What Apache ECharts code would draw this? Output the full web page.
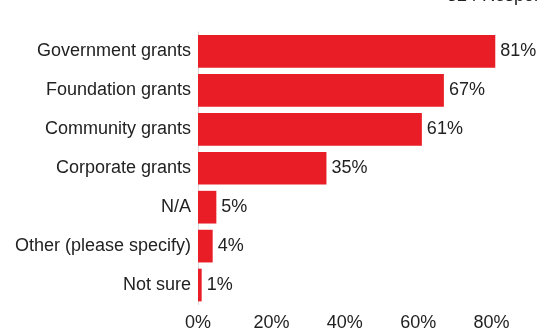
<!DOCTYPE html>
<html>
<head>
<meta charset="utf-8">
<script src="https://cdn.jsdelivr.net/npm/echarts@6/dist/echarts.min.js"></script>
<style>html,body{margin:0;padding:0;background:#fff}#c{width:541px;height:333px}</style>
</head>
<body>
<div id="c"></div>
<script>
const categories = ["Government grants","Foundation grants","Community grants","Corporate grants","N/A","Other (please specify)","Not sure"];
const values = [81, 67, 61, 35, 5, 4, 1];
const tickLabels = ["0%","20%","40%","60%","80%","100%"];
const subtitle = "324 Respondents";

const chart = echarts.init(document.getElementById('c'));
const font = 'Liberation Sans, Arial, Helvetica, sans-serif';
chart.setOption({
  animation: false,
  title: {text: subtitle, left: 447, top: -13, padding: 0,
    textStyle: {fontSize: 18, fontWeight: 'normal', color: '#222', fontFamily: font}},
  grid: {left: 198, top: 32, width: 367, bottom: 28.5, containLabel: false, outerBoundsMode: 'none'},
  xAxis: {
    type: 'value', min: 0, max: 100, interval: 20,
    axisLine: {show: false}, axisTick: {show: false}, splitLine: {show: false},
    axisLabel: {color: '#222', fontSize: 18, fontFamily: font, margin: 10,
      formatter: v => tickLabels[Math.round(v / 20)]}
  },
  yAxis: {
    type: 'category', data: categories, inverse: true,
    axisLine: {show: true, lineStyle: {color: '#d9d9d9', width: 1}},
    axisTick: {show: false},
    axisLabel: {color: '#222', fontSize: 18, fontFamily: font, margin: 7}
  },
  series: [{
    type: 'bar', data: values, barCategoryGap: '16%',
    itemStyle: {color: '#e91d25'},
    label: {show: true, position: 'right', distance: 5, formatter: '{c}%',
      color: '#222', fontSize: 18, fontFamily: font}
  }]
});
</script>
</body>
</html>
